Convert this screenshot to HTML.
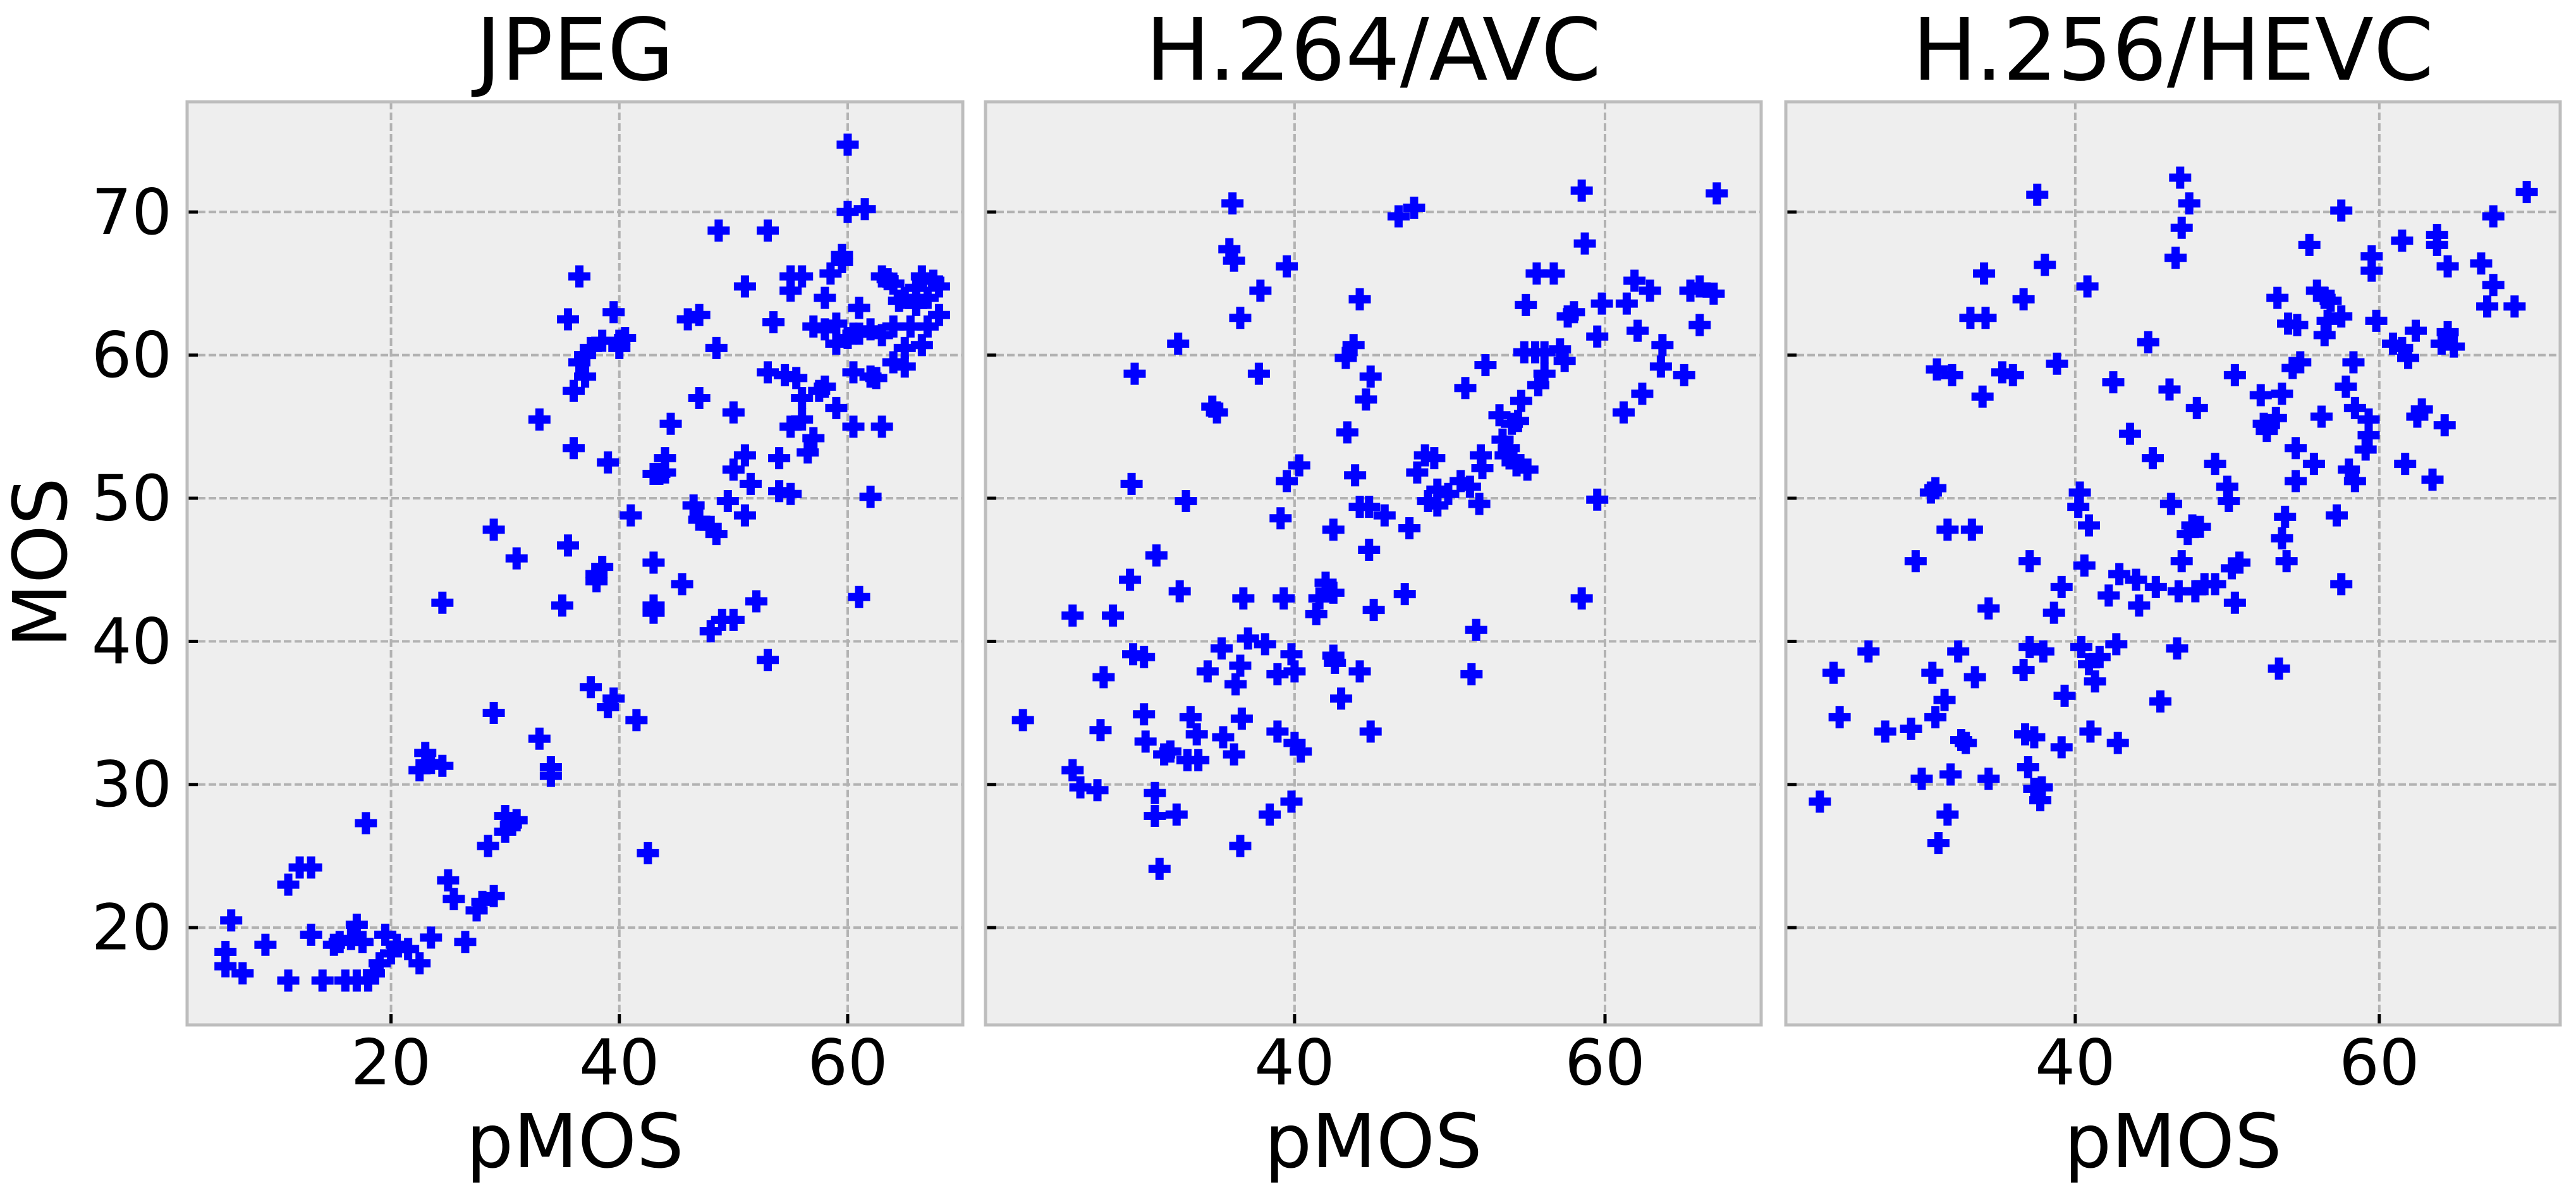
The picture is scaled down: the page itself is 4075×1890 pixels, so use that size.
<!DOCTYPE html>
<html><head><meta charset="utf-8">
<style>
html,body{margin:0;padding:0;background:#fff;}
svg{display:block;font-family:"DejaVu Sans","Liberation Sans",sans-serif;}
</style></head>
<body>
<svg id="chart" width="4075" height="1890" viewBox="0 0 4075 1890" xmlns="http://www.w3.org/2000/svg">
<text x="64" y="890" font-size="118" text-anchor="middle" dominant-baseline="central" transform="rotate(-90 64 890)">MOS</text>
</svg>
<script>
const panelTitles = ["JPEG", "H.264/AVC", "H.256/HEVC"];
const yTicks = [20, 30, 40, 50, 60, 70];
const xTicksJpeg = [20, 40, 60];
const xTicksAvc = [40, 60];
const xTicksHevc = [40, 60];
const jpegPmos = [5.5,5.5,6,7,9,11,11,12,13,13,14,15,15.5,16,16.5,17,17,17.5,17.8,18,18.5,19,19.5,20,20.5,21.5,22.5,22.5,23,23.5,23.5,24.5,24.5,25,25.5,26.5,27.5,28,28.5,29,29,29,30,30,30.5,31,31,33,33,34,34,35,35.5,35.5,36,36,36.5,36.5,37,37,37.5,37.5,38,38,38.5,38.5,39,39,39.5,39.5,40,40,40.5,41,41.5,42.5,43,43,43,43,43.5,44,44,44.5,45.5,46,46.5,47,47,47,48,48,48.5,48.5,48.7,49,49.5,50,50,50,51,51,51,51.5,52,53,53,53,53.5,54,54,54.5,55,55,55,55,55.5,56,56,56,56.5,57,57,57.5,58,58,58,58.5,59,59,59.5,59.5,60,60,60.5,60.5,60.5,61,61,61,61.5,62,62,62,62.5,63,63,63,64,64,64,64.5,65,65,65,65.5,66,66,66.5,66.5,67,67,67.5,68,68,63.5,60,59];
const jpegMos = [18.3,17.3,20.5,16.8,18.8,16.3,23,24.2,24.2,19.5,16.3,18.8,19,16.3,19.2,20.2,16.3,19,27.3,16.3,16.8,17.5,19.5,18.2,18.8,18.5,17.5,31,32.2,19.3,31.5,31.3,42.7,23.3,22,19,21.2,21.8,25.7,22.2,35,47.8,27.8,26.7,27.2,45.8,27.5,55.5,33.2,31.2,30.6,42.5,62.5,46.7,53.5,57.5,65.5,59.5,58.5,60,60.5,36.8,44.2,44.7,45.2,61,52.5,35.4,36,63,60.5,61,61.2,48.8,34.5,25.2,45.5,42.5,42,51.7,51.7,52.8,51.8,55.2,44,62.5,49.5,57,62.8,48.5,40.7,48,47.5,60.5,68.7,41.5,49.8,41.5,56,52,53,48.8,64.8,51,42.8,38.7,68.7,58.8,62.3,50.5,52.8,58.6,50.3,55,65.5,64.5,58.4,65.5,57,55.5,53.2,54.2,62,57.5,61.8,64,57.8,65.7,56.3,60.8,66.5,67,74.7,70,55,61.5,58.8,61.5,63.3,43.1,70.2,61.8,58.5,50.1,58.4,55,65.5,61.4,62,65,59.5,63.8,64,60.5,59.2,62,64.7,63.5,60.7,65.5,64,62,65.2,62.8,64.8,65.3,61.2,62.2];
const avcPmos = [22.5,25.7,26.2,27.3,25.7,27.5,28.3,27.7,29.4,29.6,30.3,29.5,29.7,30.3,30.4,31,31,31.3,31.1,31.6,32,32.5,32.6,32.4,33,33.3,33.7,33.1,33.8,34.4,34.7,35,35.3,35.4,36,35.8,36.1,36.5,36.1,36.2,36.5,36.6,36.5,36.7,37,37.7,37.8,38.1,38.4,38.9,38.9,39.1,39.3,39.5,39.5,40,39.8,39.8,40,40.3,40.4,41.4,41.6,42,42.5,42.5,42.5,42.6,43,43.4,43.3,43.9,43.8,44.2,44.2,44.2,44.6,44.8,44.9,44.8,44.9,45.1,45.8,47.4,47.1,46.7,47.7,47.9,48.4,49,48.6,49.2,49.2,49.9,50.7,51,51.3,51.9,51.7,51.4,52,52.1,52.3,53.2,53.4,53.6,53.8,54.1,54.3,54.4,54.6,54.9,55,55.7,56.1,55.6,56.7,56.1,57.1,57.6,57.4,58,58.5,58.7,58.5,59.5,59.5,59.8,61.2,61.9,62.1,62.4,62.9,63.7,63.6,65.1,65.5,66.1,66.1,67,67.2,55.5,54.8,54,61.4];
const avcMos = [34.5,31,29.8,29.6,41.8,33.8,41.8,37.5,44.3,39.1,38.9,51,58.7,34.9,33,29.4,27.8,24.1,46,32.1,32.3,60.8,43.5,27.9,49.8,34.7,33.5,31.7,31.7,37.9,56.4,56,39.5,33.3,70.6,67.4,66.6,62.6,32.1,37,38.3,34.6,25.7,43,40.2,58.7,64.5,39.8,27.9,37.7,33.7,48.6,43,51.2,66.2,32.9,28.8,39.1,37.9,52.3,32.3,41.9,43,44.1,39,47.8,43.4,38.5,36,54.6,59.8,51.6,60.7,63.9,37.9,49.4,56.9,49.4,58.5,46.4,33.7,42.2,48.8,47.9,43.3,69.7,70.3,51.8,53,52.8,49.8,49.5,50.6,50.3,51.2,57.7,50.8,49.6,40.8,37.7,53,52.1,59.3,55.8,54.1,53,53.5,52.8,52.3,55.4,56.8,63.5,52,57.9,58.7,65.7,65.7,60.2,60.4,62.7,59.6,63,71.5,67.8,43,49.9,61.3,63.6,56,65.2,61.7,57.3,64.5,60.7,59.2,58.6,64.5,64.8,62.1,64.3,71.3,60.2,60.2,55.2,63.6];
const hevcPmos = [23.2,24.1,24.5,26.4,27.5,29.2,29.5,29.9,30.5,30.8,30.6,30.8,30.9,31,31.4,31.6,31.6,31.8,31.9,32.3,32.5,32.8,33.1,33.2,33.4,33.9,34,34.1,34.3,34.3,35.2,35.9,36.6,36.6,36.7,36.9,37,37,37.3,37.3,37.5,37.7,37.8,37.9,38,38.6,38.8,39.1,39.1,39.3,40.2,40.3,40.4,40.6,40.8,40.9,40.9,41,41.3,41.6,42.2,42.5,42.7,42.8,42.9,43.6,44,44.2,44.8,45.1,45.3,45.6,46.2,46.3,46.6,46.7,46.8,46.9,47,47,47.4,47.5,47.7,48,47.9,48.2,48.5,49.2,49.2,50,50.3,50.1,50.5,50.5,50.8,52.2,52.4,52.6,53.2,53.3,53.4,53.6,53.6,53.8,53.9,54,54.3,54.5,54.5,54.6,54.8,55.4,55.7,55.9,56.2,56.4,56.4,56.6,56.8,57.2,57.5,57.5,57.5,57.8,58,58.4,58.4,58.3,59.1,59.3,59.3,59.5,59.5,59.8,60.9,61.5,61.5,61.7,61.9,62.4,62.5,62.8,63.5,63.8,63.8,64.1,64.3,64.5,64.5,64.9,66.7,67.1,67.5,67.5,68.9,69.7];
const hevcMos = [28.8,37.8,34.7,39.3,33.7,33.9,45.6,30.4,50.4,50.7,37.8,34.7,59,25.9,35.9,47.8,27.9,30.7,58.6,39.3,33.1,32.9,62.6,47.8,37.5,57.1,65.7,62.6,30.4,42.3,58.8,58.6,63.9,38,33.5,31.2,45.6,39.6,29.7,33.3,71.2,28.9,29.8,39.3,66.3,42,59.4,32.6,43.8,36.2,49.4,50.4,39.6,45.3,64.8,48.1,38.4,33.7,37.2,38.9,43.2,58.1,39.8,32.9,44.7,54.5,44.3,42.5,60.9,52.8,43.8,35.8,57.6,49.6,66.8,39.5,43.5,72.4,68.9,45.6,47.5,70.6,48.1,56.3,43.5,48,44,44,52.4,50.8,45.1,49.8,42.7,58.6,45.5,57.2,55.2,54.7,55.6,64,38.1,47.2,57.3,48.7,45.6,62.2,59.1,51.2,53.5,62.1,59.5,67.7,52.4,64.5,55.7,61.4,64,62.4,63.8,48.8,70.1,62.7,44,57.8,52,51.2,56.3,59.5,53.4,54.4,55.5,66.9,65.9,62.4,60.8,60.5,68,52.4,59.8,61.7,55.7,56.2,51.3,68.4,67.7,60.8,55.1,61.6,66.2,60.6,66.4,63.4,64.9,69.7,63.4,71.4];

const NS = "http://www.w3.org/2000/svg";
const svg = document.getElementById("chart");
const panelsDef = [
  {x0:296, x1:1523, xmin:2.14, xmax:70.08, xs:jpegPmos, ys:jpegMos, ticks:xTicksJpeg, ylabels:true, key:"jpeg"},
  {x0:1559, x1:2786, xmin:20.09, xmax:70.06, xs:avcPmos, ys:avcMos, ticks:xTicksAvc, ylabels:false, key:"avc"},
  {x0:2825, x1:4050, xmin:20.96, xmax:71.9, xs:hevcPmos, ys:hevcMos, ticks:xTicksHevc, ylabels:false, key:"hevc"}
];
const Y0 = 161, Y1 = 1621, YMIN = 13.2, YMAX = 77.7;
function mk(tag, attrs, parent){const e=document.createElementNS(NS,tag);for(const k in attrs)e.setAttribute(k,attrs[k]);(parent||svg).appendChild(e);return e;}
function yScale(v){return Y1-(v-YMIN)/(YMAX-YMIN)*(Y1-Y0);}

panelsDef.forEach((p,pi)=>{
  const xScale = v => p.x0+(v-p.xmin)/(p.xmax-p.xmin)*(p.x1-p.x0);
  const g = mk("g",{});
  
  
  const bg = mk("rect",{x:p.x0,y:Y0,width:p.x1-p.x0,height:Y1-Y0,fill:"#eeeeee"},g);
  
  
  yTicks.forEach(t=>{
    const y=yScale(t);
    const l=mk("line",{x1:p.x0,x2:p.x1,y1:y,y2:y,stroke:"#b2b2b2","stroke-width":4,"stroke-dasharray":"12,5"},g);
    
    
    const tk=mk("line",{x1:p.x0,x2:p.x0+17,y1:y,y2:y,stroke:"#000","stroke-width":5},g);
    
    
    if(p.ylabels){
      const tx=mk("text",{x:272,y:y,"font-size":100,"text-anchor":"end","dominant-baseline":"central"},g);
      tx.textContent=t;
      
      
    }
  });
  p.ticks.forEach(t=>{
    const x=xScale(t);
    const l=mk("line",{x1:x,x2:x,y1:Y0,y2:Y1,stroke:"#b2b2b2","stroke-width":4,"stroke-dasharray":"12,5"},g);
    
    
    const tk=mk("line",{x1:x,x2:x,y1:Y1-17,y2:Y1,stroke:"#000","stroke-width":5},g);
    
    
    const tx=mk("text",{x:x,y:1715,"font-size":100,"text-anchor":"middle"},g);
    tx.textContent=t;
    
    
  });
  const s=17, a=6;
  p.xs.forEach((xv,i)=>{
    const cx=xScale(xv), cy=yScale(p.ys[i]);
    const d=`M${cx-a} ${cy-s}H${cx+a}V${cy-a}H${cx+s}V${cy+a}H${cx+a}V${cy+s}H${cx-a}V${cy+a}H${cx-s}V${cy-a}H${cx-a}Z`;
    const m=mk("path",{d:d,fill:"#0000ff",stroke:"#0000ff","stroke-width":1},g);
    
    
  });
  const br=mk("rect",{x:p.x0,y:Y0,width:p.x1-p.x0,height:Y1-Y0,fill:"none",stroke:"#bdbdbd","stroke-width":5},g);
  
  
  const cx=(p.x0+p.x1)/2;
  const tt=mk("text",{x:cx,y:126,"font-size":136,"text-anchor":"middle"},g);
  tt.textContent=panelTitles[pi];
  
  
  const xl=mk("text",{x:cx,y:1846,"font-size":118,"text-anchor":"middle"},g);
  xl.textContent="pMOS";
  
  
});
</script>
</body></html>
